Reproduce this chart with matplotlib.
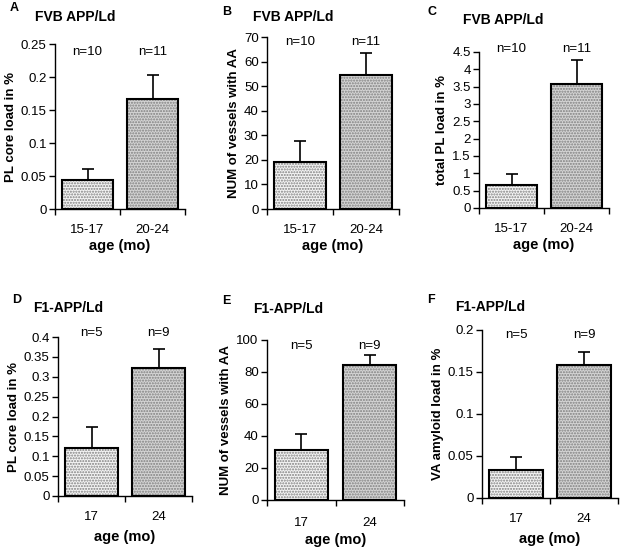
import matplotlib.pyplot as plt

plt.rcParams['font.family'] = ['Liberation Sans', 'DejaVu Sans']

# data
panels = ['A', 'B', 'C', 'D', 'E', 'F']
titles = ['FVB APP/Ld', 'FVB APP/Ld', 'FVB APP/Ld', 'F1-APP/Ld', 'F1-APP/Ld', 'F1-APP/Ld']
ylabels = ['PL core load in %', 'NUM of vessels with AA', 'total PL load in %',
           'PL core load in %', 'NUM of vessels with AA', 'VA amyloid load in %']
ages_top = ['15-17', '20-24']
ages_bottom = ['17', '24']
n_top = ['n=10', 'n=11']
n_bottom = ['n=5', 'n=9']

means = [[0.044, 0.166], [19, 54.5], [0.67, 3.58],
         [0.122, 0.323], [31.5, 84.5], [0.033, 0.158]]
errs = [[0.016, 0.037], [8.5, 9], [0.3, 0.69],
        [0.051, 0.048], [10, 6], [0.016, 0.016]]
ymax = [0.25, 70, 4.5, 0.4, 100, 0.2]
ystep = [0.05, 10, 0.5, 0.05, 20, 0.05]
ytick_labels = [
    ['0', '0.05', '0.1', '0.15', '0.2', '0.25'],
    ['0', '10', '20', '30', '40', '50', '60', '70'],
    ['0', '0.5', '1', '1.5', '2', '2.5', '3', '3.5', '4', '4.5'],
    ['0', '0.05', '0.1', '0.15', '0.2', '0.25', '0.3', '0.35', '0.4'],
    ['0', '20', '40', '60', '80', '100'],
    ['0', '0.05', '0.1', '0.15', '0.2'],
]

W, H = 620, 549
# axes boxes in pixels: left, right, top, bottom
boxes = [(55, 185, 44, 209), (267, 399, 37, 209), (479, 609, 52, 208),
         (58, 192, 337, 496), (267, 404, 340, 500), (482, 618, 330, 498)]
# panel letter pos and title pos in pixels
letter_pos = [(10, 8), (222, 12), (427, 12), (12, 300), (222, 301), (427, 300)]
title_pos = [(35, 17), (253, 17), (463, 20), (33, 308), (253, 309), (455, 307)]
n_frac = [0.95, 0.97, 1.02, 1.025, 0.96, 0.97]
tick_pad = [11, 11, 11, 11, 12, 11]
xlab_pad = [2, 2, 2, 5, 3, 5]

fig = plt.figure(figsize=(6.2, 5.49), dpi=100)

for i in range(6):
    l, r, t, b = boxes[i]
    ax = fig.add_axes([l / W, 1 - b / H, (r - l) / W, (b - t) / H])
    x = [0, 1]
    # dotted fill
    ax.bar(x, means[i], width=0.78, color=['#f4f4f4', '#d4d4d4'],
           hatch='......', edgecolor='#808080', linewidth=0, zorder=2)
    ax.bar(x, means[i], width=0.78, fill=False, edgecolor='black',
           linewidth=1.5, zorder=3)
    ax.errorbar(x, means[i], yerr=[[0, 0], errs[i]], fmt='none',
                ecolor='black', elinewidth=1.2, capsize=4, capthick=1.2, zorder=1)

    ax.set_xlim(-0.5, 1.5)
    ax.set_ylim(0, ymax[i])
    n_ticks = len(ytick_labels[i])
    ax.set_yticks([k * ystep[i] for k in range(n_ticks)])
    ax.set_yticklabels(ytick_labels[i], fontsize=9.5)
    ax.set_xticks([-0.5, 0.5, 1.5])
    ax.set_xticklabels([])
    ax.set_xticks(x, minor=True)
    ax.set_xticklabels(ages_top if i < 3 else ages_bottom, minor=True, fontsize=9.5)
    ax.tick_params(axis='x', which='minor', length=0, pad=tick_pad[i])
    ax.tick_params(axis='x', which='major', length=4, width=1)
    ax.tick_params(axis='y', length=4, width=1, pad=2)
    for s in ['top', 'right']:
        ax.spines[s].set_visible(False)
    for s in ['left', 'bottom']:
        ax.spines[s].set_linewidth(1)
    ax.set_ylabel(ylabels[i], fontsize=9.5, fontweight='bold', labelpad=3)
    ax.set_xlabel('age (mo)', fontsize=10.5, fontweight='bold', labelpad=xlab_pad[i])

    labels = n_top if i < 3 else n_bottom
    for k in range(2):
        ax.text(x[k], n_frac[i], labels[k], transform=ax.get_xaxis_transform(),
                ha='center', va='center', fontsize=9.5)

    lx, ly = letter_pos[i]
    fig.text(lx / W, 1 - ly / H, panels[i], fontsize=9, fontweight='bold',
             ha='left', va='center')
    tx, ty = title_pos[i]
    fig.text(tx / W, 1 - ty / H, titles[i], fontsize=10, fontweight='bold',
             ha='left', va='center')

fig.savefig('out.png', dpi=100)
